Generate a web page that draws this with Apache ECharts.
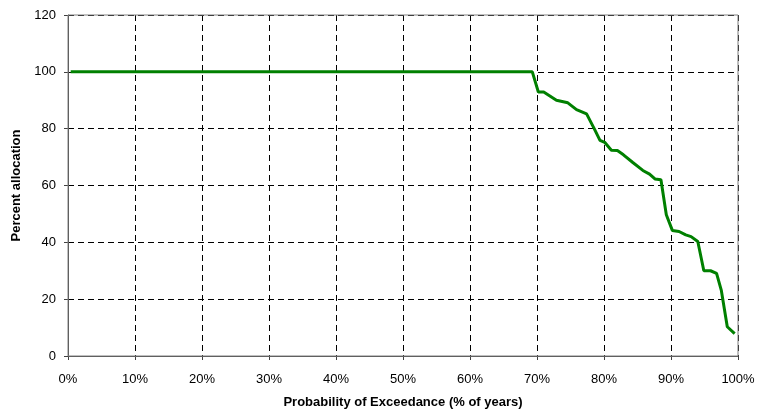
<!DOCTYPE html>
<html>
<head>
<meta charset="utf-8">
<script src="https://cdn.jsdelivr.net/npm/echarts@6/dist/echarts.min.js"></script>
<style>
  html, body { margin: 0; padding: 0; background: #fff; }
  #chart { width: 759px; height: 412px; }
</style>
</head>
<body>
<div id="chart"></div>
<script>
// exceedance probability (% of years) and allocation (%)
var exceedance = [0.4, 69.3, 70.2, 71.0, 72.9, 74.6, 75.9, 77.4, 78.5, 79.4, 80.1, 81.1, 82.0,
    82.9, 84.3, 85.8, 86.8, 87.6, 88.5, 89.3, 90.2, 91.2, 92.2, 93.0, 94.0, 94.9,
    95.9, 96.8, 97.5, 98.4, 99.5];
var allocation = [100, 100, 92.9, 92.9, 90.0, 89.1, 86.7, 85.2, 80.2, 75.9, 75.2, 72.4, 72.3,
    70.8, 68.1, 65.3, 64.0, 62.3, 62.0, 49.7, 44.2, 43.8, 42.6, 42.0, 40.3, 30.0,
    30.0, 29.1, 23.2, 10.3, 7.9];

var xTicks = { min: 0, max: 100, interval: 10 };
var yTicks = { min: 0, max: 120, interval: 20 };

var points = exceedance.map(function (x, i) {
    return [x, allocation[i]];
});

var font = 'Liberation Sans, Arial, sans-serif';
var gridLine = { show: true, lineStyle: { color: '#000', type: [6, 4], width: 1 } };

var chart = echarts.init(document.getElementById('chart'));
chart.setOption({
    animation: false,
    grid: {
        left: 68, right: 21, top: 15, bottom: 56,
        outerBoundsMode: 'none',
        show: true,
        z: 1,
        borderColor: '#808080',
        borderWidth: 1,
        backgroundColor: 'transparent'
    },
    xAxis: {
        type: 'value',
        min: xTicks.min,
        max: xTicks.max,
        interval: xTicks.interval,
        name: 'Probability of Exceedance (% of years)',
        nameLocation: 'middle',
        nameGap: 40,
        nameTextStyle: { fontFamily: font, fontSize: 13, fontWeight: 'bold', color: '#000' },
        axisLine: { lineStyle: { color: '#404040', width: 1 } },
        axisTick: { show: true, inside: false, length: 4, lineStyle: { color: '#404040' } },
        axisLabel: {
            margin: 17,
            fontFamily: font, fontSize: 13, color: '#000',
            formatter: '{value}%'
        },
        splitLine: gridLine
    },
    yAxis: {
        type: 'value',
        min: yTicks.min,
        max: yTicks.max,
        interval: yTicks.interval,
        name: 'Percent allocation',
        nameLocation: 'middle',
        nameGap: 43,
        nameTextStyle: { fontFamily: font, fontSize: 13, fontWeight: 'bold', color: '#000' },
        axisLine: { show: true, lineStyle: { color: '#404040', width: 1 } },
        axisTick: { show: true, inside: false, length: 4, lineStyle: { color: '#404040' } },
        axisLabel: { margin: 12, fontFamily: font, fontSize: 13, color: '#000' },
        splitLine: gridLine
    },
    series: [{
        type: 'line',
        data: points,
        showSymbol: false,
        z: 3,
        lineStyle: { color: '#008000', width: 3 },
        itemStyle: { color: '#008000' }
    }]
});
</script>
</body>
</html>
